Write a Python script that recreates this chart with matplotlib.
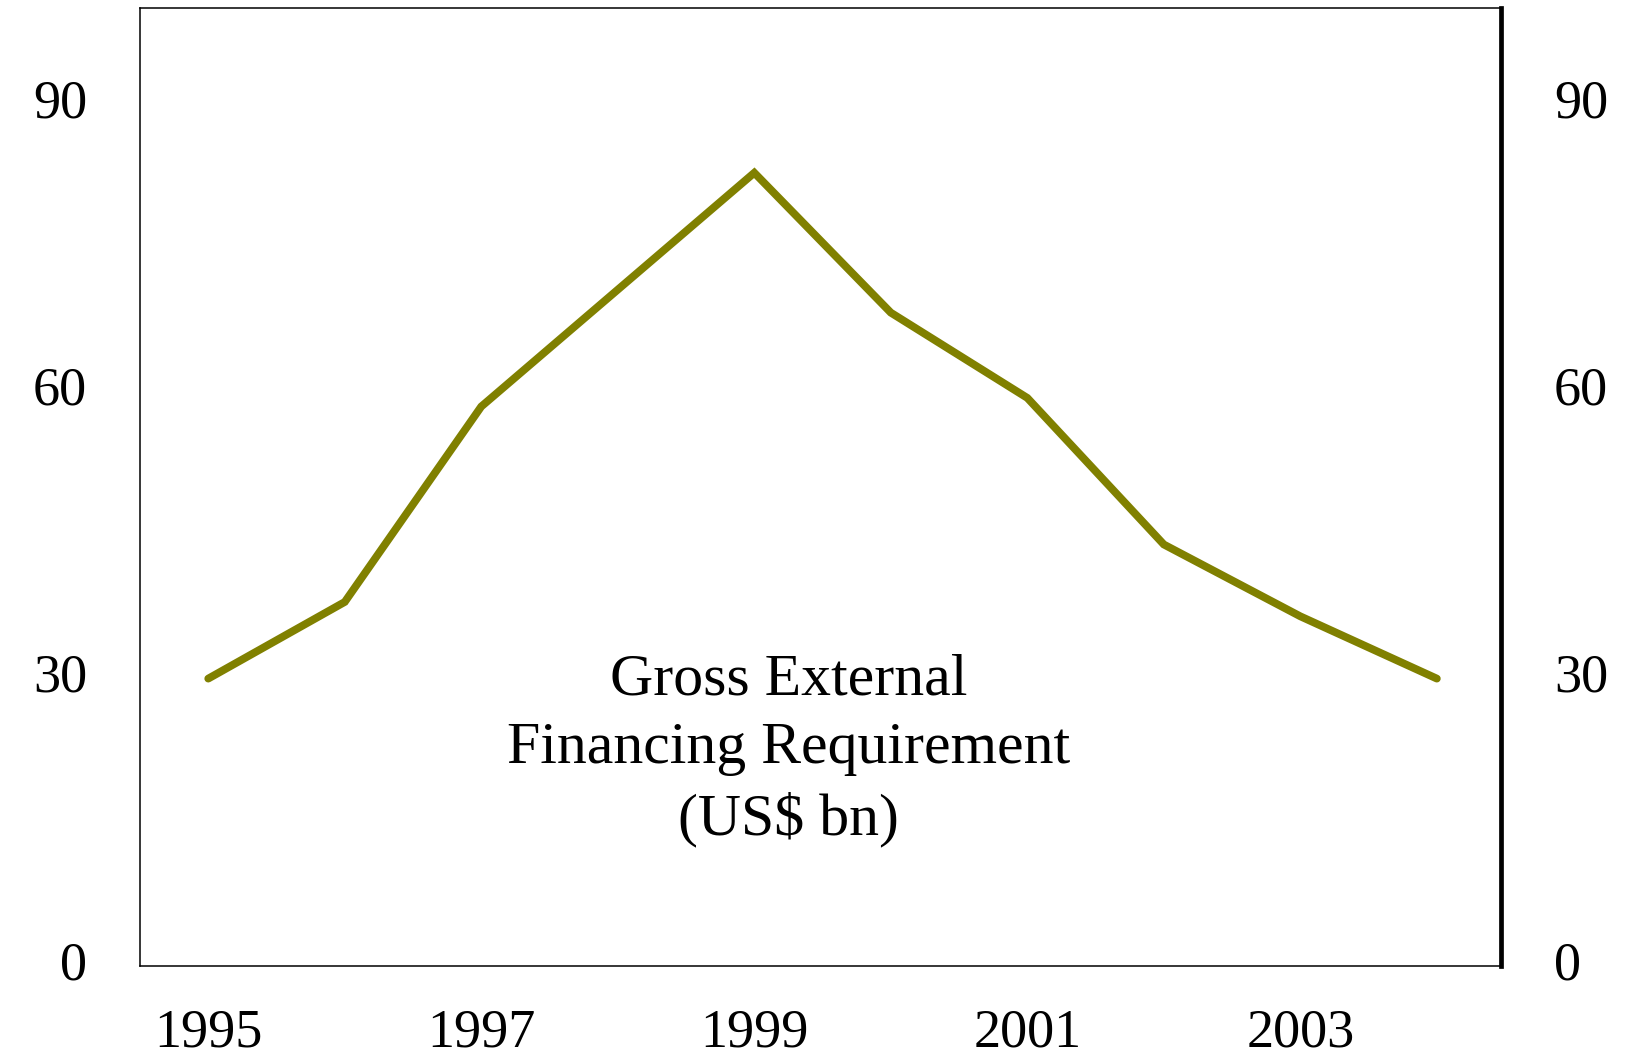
import matplotlib
matplotlib.use("Agg")
import matplotlib.pyplot as plt

years = [1995, 1996, 1997, 1998, 1999, 2000, 2001, 2002, 2003, 2004]
financing = [30.0, 38.0, 58.4, 70.6, 82.8, 68.2, 59.3, 44.0, 36.5, 30.0]
xtick_years = [1995, 1997, 1999, 2001, 2003]
yticks = [0, 30, 60, 90]
label_text = "Gross External\nFinancing Requirement\n(US$ bn)"

plt.rcParams['font.family'] = ['Liberation Serif', 'DejaVu Serif']

fig = plt.figure(figsize=(16.36, 10.57), dpi=100)
ax = fig.add_axes([140/1636, 1 - 966/1057, (1501-140)/1636, (966-8)/1057])

ax.plot(years, financing, color='#808000', lw=5.6, solid_capstyle='round',
        solid_joinstyle='miter')

ax.set_xlim(1994.5, 2004.47)
ax.set_ylim(0, 100)
ax.set_xticks(xtick_years)
ax.set_xticklabels([str(y) for y in xtick_years])
ax.set_yticks(yticks)
ax.set_yticklabels([str(v) for v in yticks])

ax.tick_params(axis='both', length=0, labelsize=39)
ax.tick_params(axis='x', pad=30)
ax.tick_params(axis='y', pad=38, labelleft=True, labelright=True)
for lab in ax.get_yticklabels() + ax.yaxis.get_ticklabels(which='major'):
    lab.set_va('center')
for t in ax.yaxis.get_major_ticks():
    t.label2.set_va('center')

for side in ['left', 'top', 'bottom']:
    ax.spines[side].set_linewidth(1.1)
ax.spines['right'].set_linewidth(3.4)

ax.text(1999.25, 22.5, label_text, ha='center', va='center', fontsize=43,
        linespacing=1.35)

fig.savefig('out.png', dpi=100)
